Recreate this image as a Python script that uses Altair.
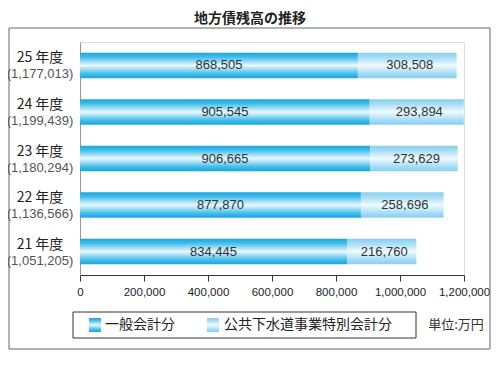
import altair as alt
import pandas as pd

years = ["25 年度", "24 年度", "23 年度", "22 年度", "21 年度"]
totals = ["(1,177,013)", "(1,199,439)", "(1,180,294)", "(1,136,566)", "(1,051,205)"]
general = [868505, 905545, 906665, 877870, 834445]
sewer = [308508, 293894, 273629, 258696, 216760]
series = ["一般会計分", "公共下水道事業特別会計分"]
x_ticks = [0, 200000, 400000, 600000, 800000, 1000000, 1200000]
title_text = "地方債残高の推移"
unit_text = "単位:万円"

JP = "Noto Sans CJK JP"

df = pd.DataFrame({
    "year": years,
    "total_label": totals,
    "general": general,
    "sewer": sewer,
})
df["end"] = df["general"] + df["sewer"]
df["zero"] = 0
df["general_label"] = [f"{v:,}" for v in general]
df["sewer_label"] = [f"{v:,}" for v in sewer]

one = pd.DataFrame({"a": [0]})

g_general = alt.Gradient(
    gradient="linear", x1=0, y1=0, x2=0, y2=1,
    stops=[
        alt.GradientStop(offset=0.0, color="#16A5DF"),
        alt.GradientStop(offset=0.18, color="#45BEEA"),
        alt.GradientStop(offset=0.5, color="#EAF8FD"),
        alt.GradientStop(offset=0.82, color="#45BEEA"),
        alt.GradientStop(offset=1.0, color="#16A5DF"),
    ],
)
g_sewer = alt.Gradient(
    gradient="linear", x1=0, y1=0, x2=0, y2=1,
    stops=[
        alt.GradientStop(offset=0.0, color="#86CFF0"),
        alt.GradientStop(offset=0.2, color="#A9DDF5"),
        alt.GradientStop(offset=0.5, color="#F0FAFE"),
        alt.GradientStop(offset=0.8, color="#A9DDF5"),
        alt.GradientStop(offset=1.0, color="#86CFF0"),
    ],
)

y_enc = alt.Y(
    "year:N", sort=years, title=None,
    scale=alt.Scale(paddingInner=0.45, paddingOuter=0.23),
    axis=alt.Axis(labels=False, ticks=False, domainColor="#999999", domainWidth=1),
)
y_plain = alt.Y("year:N", sort=years)
x_scale = alt.Scale(domain=[0, 1200000], nice=False)
x_axis = alt.Axis(
    values=x_ticks, format=",d", grid=False, tickSize=6, tickColor="#333333",
    domainColor="#333333", labelFont="Liberation Sans", labelFontSize=11.5,
    labelColor="#222222", labelPadding=5, title=None, labelOverlap=False,
    labelFlush=False,
)

base = alt.Chart(df)

bar_general = base.mark_bar(color=g_general).encode(
    x=alt.X("zero:Q", scale=x_scale, axis=x_axis),
    x2="general:Q",
    y=y_enc,
)

bar_sewer = base.mark_bar(color=g_sewer).encode(
    x=alt.X("general:Q", scale=x_scale),
    x2="end:Q",
    y=y_plain,
)

lab_general = base.transform_calculate(mid="datum.general / 2").mark_text(
    font="Liberation Sans", fontSize=13, color="#333333"
).encode(x=alt.X("mid:Q", scale=x_scale), y=y_plain, text="general_label:N")

lab_sewer = base.transform_calculate(mid="datum.general + datum.sewer / 2 + 8000").mark_text(
    font="Liberation Sans", fontSize=13, color="#333333"
).encode(x=alt.X("mid:Q", scale=x_scale), y=y_plain, text="sewer_label:N")

lab_year = base.mark_text(font=JP, fontSize=14, color="#222222", dy=-7).encode(
    x=alt.value(-40), y=y_plain, text="year:N"
)
lab_total = base.mark_text(font="Liberation Sans", fontSize=13, color="#555555", dy=9).encode(
    x=alt.value(-40), y=y_plain, text="total_label:N"
)

frame = alt.Chart(one).mark_rect(fill=None, stroke="#666666", strokeWidth=1).encode(
    x=alt.value(-71), x2=alt.value(410), y=alt.value(-14), y2=alt.value(307)
)
legend_box = alt.Chart(one).mark_rect(fill="white", stroke="#333333", strokeWidth=1).encode(
    x=alt.value(-7), x2=alt.value(336), y=alt.value(270), y2=alt.value(296)
)
title = alt.Chart(one).mark_text(
    text=title_text, font=JP, fontSize=14, fontWeight="bold", color="#222222"
).encode(x=alt.value(170), y=alt.value(-23))
unit = alt.Chart(one).mark_text(
    text=unit_text, font=JP, fontSize=13, color="#333333"
).encode(x=alt.value(376), y=alt.value(283))

# legend (manual)
leg_sym1 = alt.Chart(one).mark_rect(color=g_general).encode(
    x=alt.value(9), x2=alt.value(21), y=alt.value(276), y2=alt.value(290)
)
leg_sym2 = alt.Chart(one).mark_rect(color=g_sewer).encode(
    x=alt.value(127), x2=alt.value(139), y=alt.value(276), y2=alt.value(290)
)
leg_txt1 = alt.Chart(one).mark_text(
    text=series[0], font=JP, fontSize=14, color="#222222", align="left"
).encode(x=alt.value(25), y=alt.value(283))
leg_txt2 = alt.Chart(one).mark_text(
    text=series[1], font=JP, fontSize=14, color="#222222", align="left"
).encode(x=alt.value(144), y=alt.value(283))

chart = alt.layer(
    frame, title, bar_general, bar_sewer, lab_general, lab_sewer, lab_year, lab_total,
    legend_box, unit, leg_sym1, leg_sym2, leg_txt1, leg_txt2,
).properties(
    width=384, height=233,
    autosize=alt.AutoSizeParams(type="none"),
    padding={"left": 72, "top": 34, "right": 27, "bottom": 80},
).configure_view(stroke=None).configure(background="white")

chart.save("out.html", embed_options={"renderer": "svg", "actions": False})
